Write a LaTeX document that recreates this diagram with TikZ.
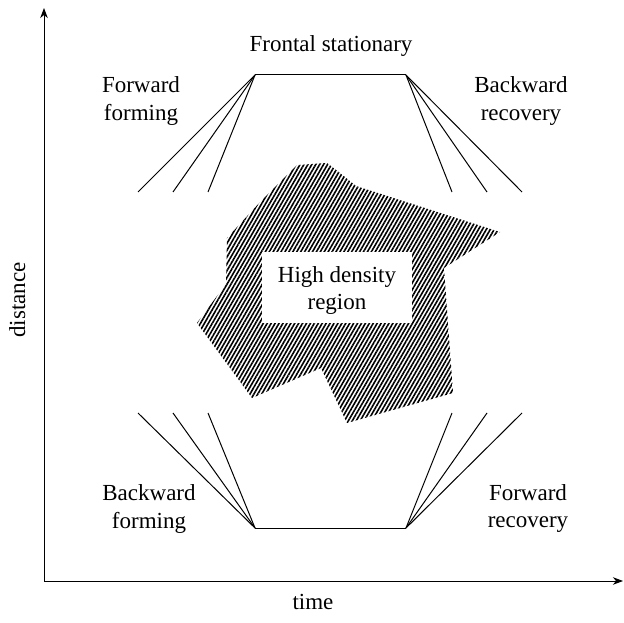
\documentclass[tikz,border=0pt]{standalone}
\usepackage{fontspec}
\setmainfont{Liberation Serif}
\usetikzlibrary{arrows.meta,patterns.meta}
\begin{document}
\begin{tikzpicture}[x=1pt,y=-1pt,
  ln/.style={line width=1pt},
  lbl/.style={font=\fontsize{23}{28}\selectfont, inner sep=0pt, anchor=base},
  axis/.style={line width=1pt,-{Stealth[length=10pt,width=7.5pt,inset=3pt]}},
  hatch/.style={pattern={Lines[angle=60,distance=3.4pt,line width=1.6pt]}}]
\useasboundingbox (0,0) rectangle (624,623);
% axes
\coordinate (O) at (44,581);
\coordinate (Ytop) at (44,8);
\coordinate (Xend) at (623,581);
\draw[axis] (O) -- (Ytop);
\draw[axis] (O) -- (Xend);
\node[lbl, rotate=90] (dist) at (25,300) {distance};
\node[lbl] (time) at (313,609) {time};
% high density region
\fill[hatch] (297,165) -- (327,163) -- (340,173) -- (356,186) -- (500,232)
  -- (444,268) -- (453,393) -- (347,423) -- (321,368) -- (252,398)
  -- (197,323) -- (226,284) -- (227,238) -- (262,200) -- cycle;
\fill[white] (262,252) rectangle (412,323);
\node[lbl] (hd1) at (337,282) {High density};
\node[lbl] (hd2) at (337,309) {region};
% trapezoids
\coordinate (TL) at (255,75);
\coordinate (TR) at (406,75);
\coordinate (BL) at (255,528);
\coordinate (BR) at (406,528);
\draw[ln] (TL) -- (TR);
\draw[ln] (BL) -- (BR);
\foreach \x [count=\i] in {138,173,208} {
  \coordinate (tl\i) at (\x,192);
  \coordinate (bl\i) at (\x,413);
  \draw[ln] (TL) -- (tl\i);
  \draw[ln] (BL) -- (bl\i);
}
\foreach \x [count=\i] in {452,487,522} {
  \coordinate (tr\i) at (\x,192);
  \coordinate (br\i) at (\x,413);
  \draw[ln] (TR) -- (tr\i);
  \draw[ln] (BR) -- (br\i);
}
% labels
\node[lbl] (fs) at (331,52) {Frontal stationary};
\node[lbl] (ff1) at (141,93) {Forward};
\node[lbl] (ff2) at (141,121) {forming};
\node[lbl] (br1) at (521,93) {Backward};
\node[lbl] (br2) at (521,121) {recovery};
\node[lbl] (bf1) at (149,500) {Backward};
\node[lbl] (bf2) at (149,528) {forming};
\node[lbl] (fr1) at (528,500) {Forward};
\node[lbl] (fr2) at (528,527) {recovery};
\end{tikzpicture}
\end{document}
